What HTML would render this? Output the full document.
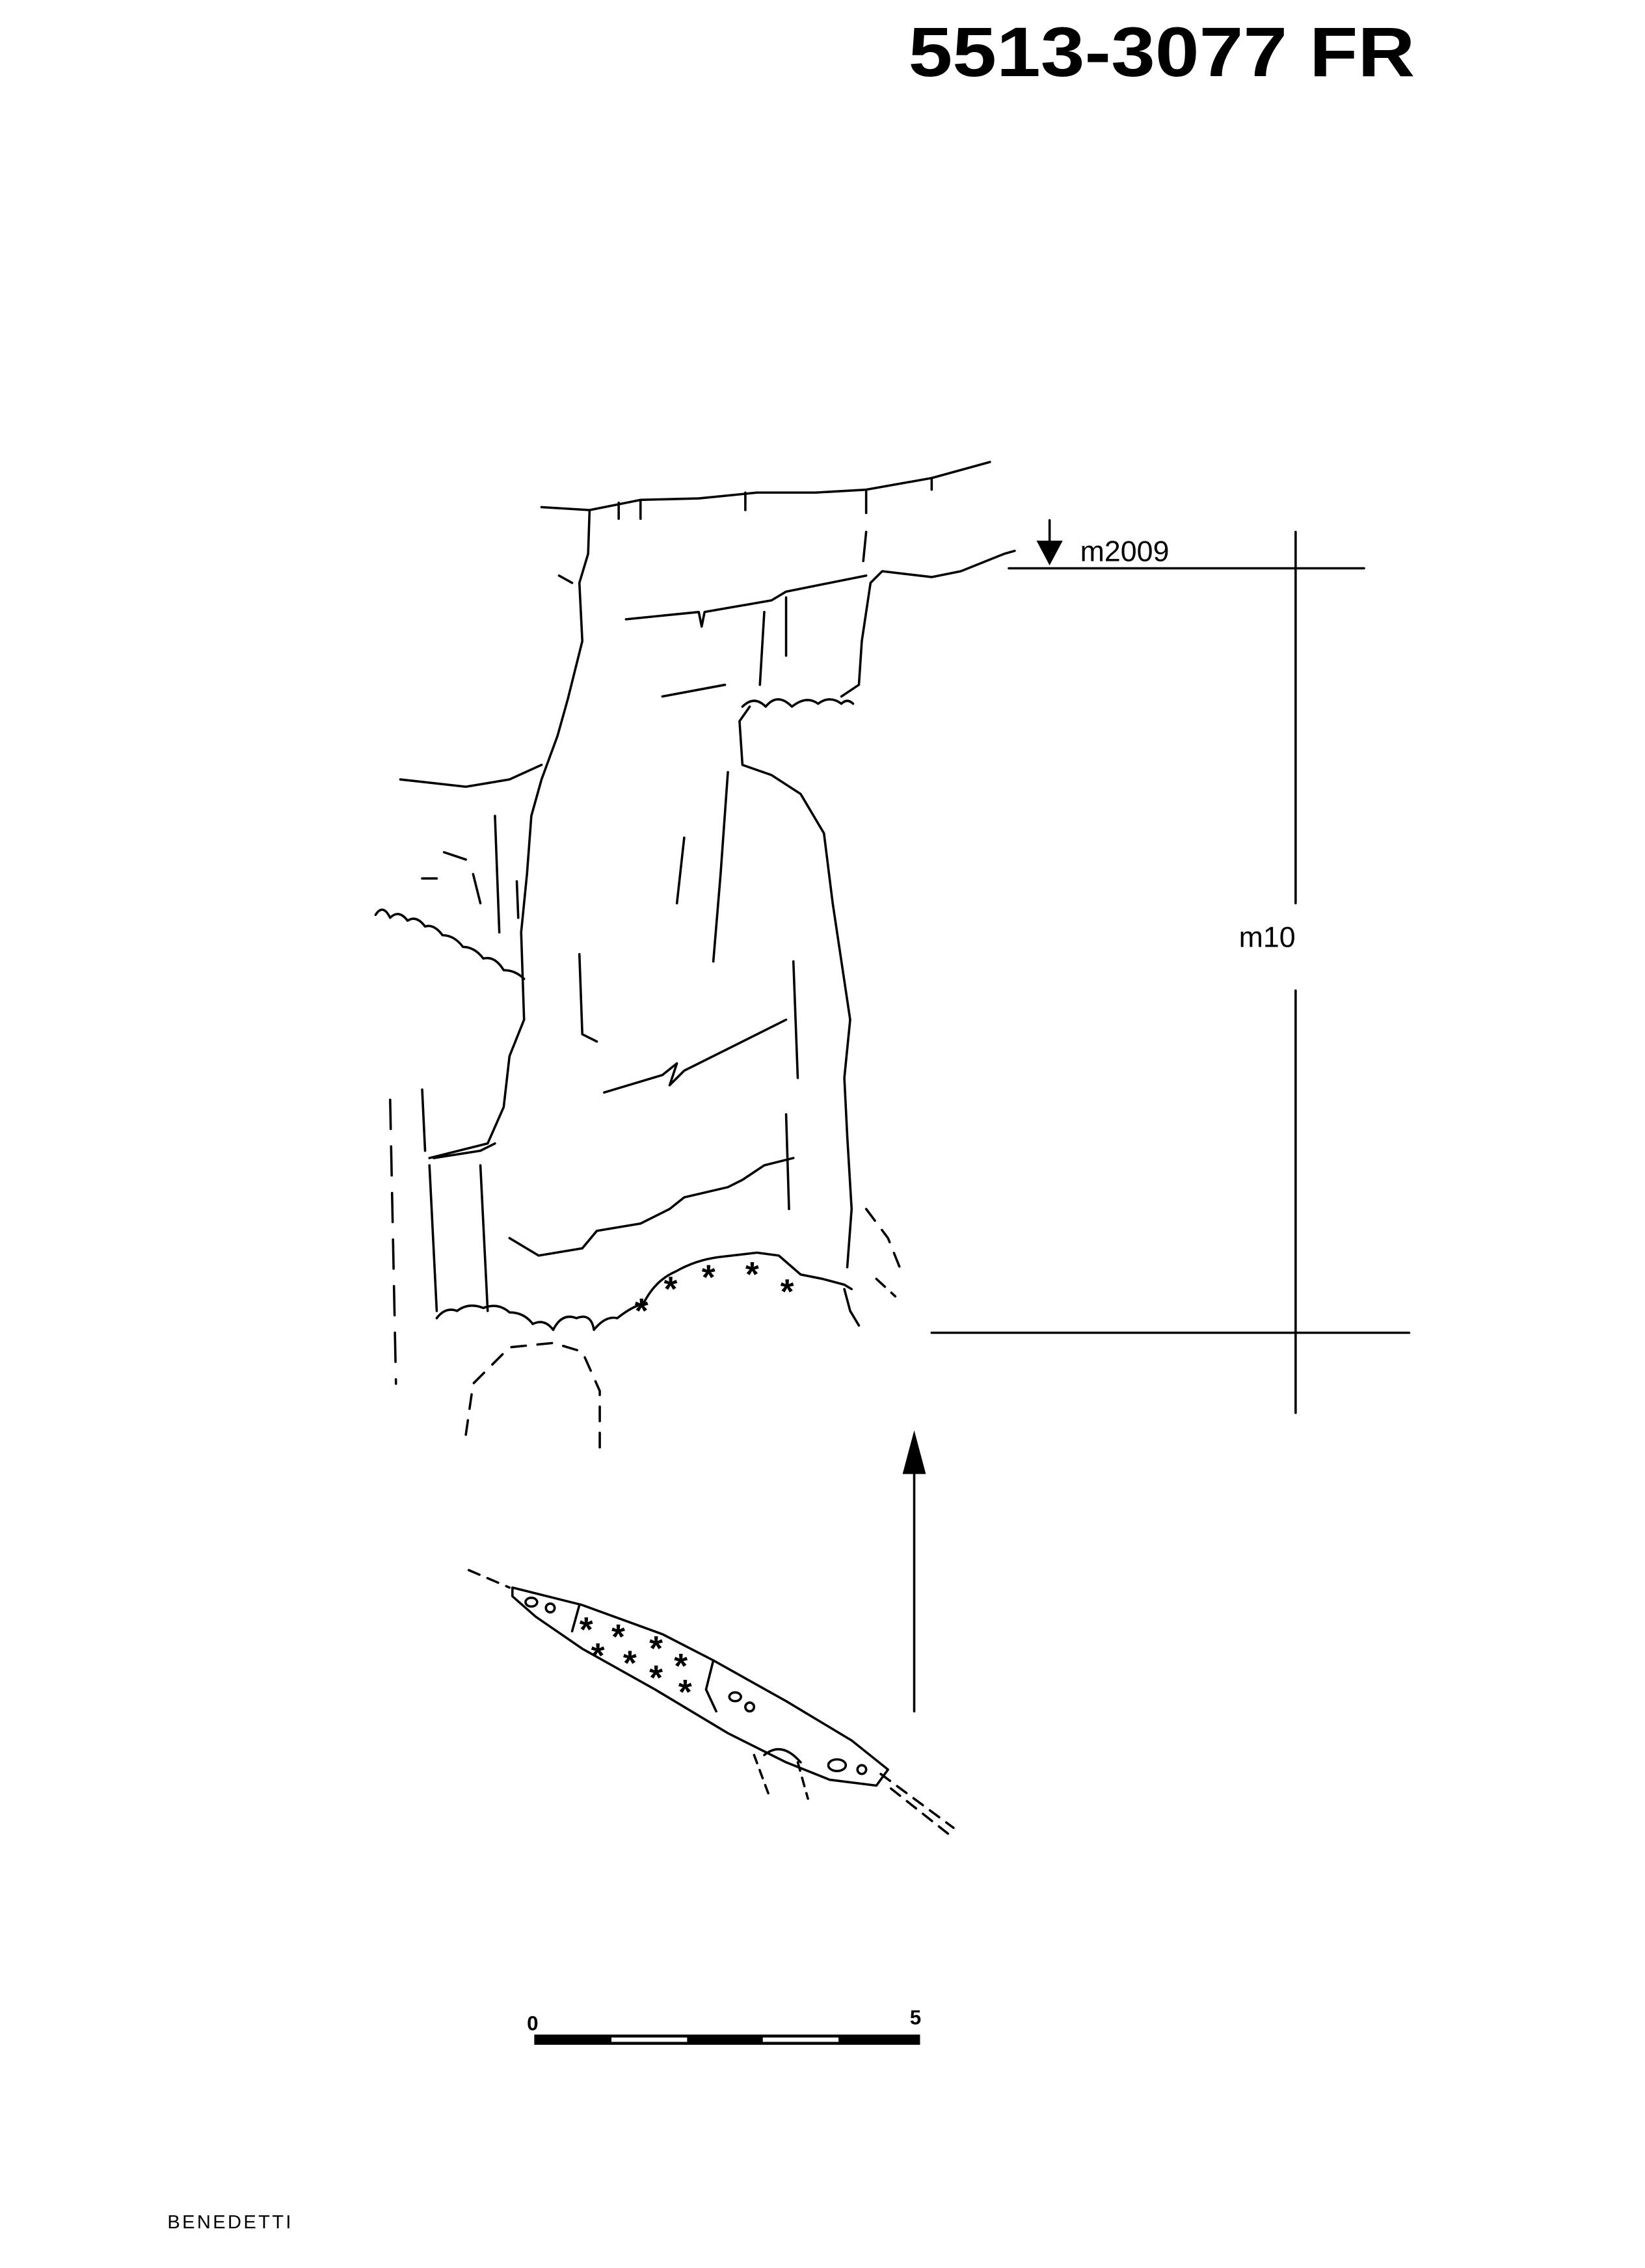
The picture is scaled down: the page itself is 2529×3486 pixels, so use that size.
<!DOCTYPE html>
<html><head><meta charset="utf-8"><style>
html,body{margin:0;padding:0;background:#fff;}
svg{display:block;}
text{font-family:"Liberation Sans",sans-serif;fill:#000;}
</style></head><body>
<svg width="2529" height="3486" viewBox="0 0 1130 1557" xmlns="http://www.w3.org/2000/svg">
<rect width="1130" height="1557" fill="#fff"/>
<text x="624" y="52" font-size="48" font-weight="bold" textLength="348" lengthAdjust="spacingAndGlyphs">5513-3077 FR</text>
<g fill="none" stroke="#000" stroke-width="1.6" stroke-linecap="round" stroke-linejoin="round">
<path d="M372,348 L405,350 L440,343 L480,342 L520,338 L560,338 L595,336 L640,328 L680,317"/>
<path d="M425,345 L425,356 M440,343 L440,356 M512,338 L512,350 M595,336 L595,352 M640,328 L640,336"/>
<path d="M405,350 L404,380 L398,400 L400,440 L390,480 L383,505 L372,535 L365,560 L362,600 L358,640 L360,700 L350,725 L346,760 L335,785 L295,795"/>
<path d="M275,535 L320,540 L350,535 L372,525"/>
<path d="M384,395 L393,400"/>
<path d="M595,365 L593,385"/>
<path d="M598,400 L606,392 L640,396 L660,392 L690,380 L697,378"/>
<path d="M598,400 L592,440 L590,470 L578,478"/>
<path d="M515,485 L508,495 L510,525 L530,532 L550,545 L566,572 L572,620 L578,660 L584,700 L580,740 L582,780 L585,830 L582,870"/>
<path d="M430,425 L480,420 L482,430 L484,420 L530,412 L540,406 L595,395"/>
<path d="M540,410 L540,450"/>
<path d="M455,478 L498,470"/>
<path d="M525,420 L522,470"/>
<path d="M500,530 L495,600 L490,660"/>
<path d="M470,575 L465,620"/>
<path d="M398,655 L400,710 L410,715"/>
<path d="M545,660 L548,740"/>
<path d="M415,750 L455,738 L465,730 L460,745 L470,735 L540,700"/>
<path d="M298,795 L330,790 L340,785"/>
<path d="M295,800 L300,900"/>
<path d="M330,800 L335,900"/>
<path d="M350,850 L370,862 L400,857 L410,845 L440,840 L460,830 L470,822 L500,815 L510,810 L525,800 L545,795"/>
<path d="M540,765 L542,830"/>
<path d="M305,585 L320,590 M290,603 L300,603 M325,600 L330,620 M340,560 L343,640 M355,605 L356,630"/>
<path d="M290,748 L292,790"/>
<path d="M510,485 q8,-8 16,0 q8,-10 18,0 q10,-8 18,-2 q8,-6 16,0 q4,-4 8,0"/>
<path d="M258,628 q5,-8 10,2 q6,-6 12,2 q6,-4 12,4 q6,-2 12,6 q8,0 14,8 q8,0 14,8 q8,-2 14,8 q8,0 14,6"/>
<path d="M300,905 q6,-8 14,-5 q8,-6 18,-2 q10,-4 18,3 q10,0 16,8 q8,-4 14,4 q6,-12 16,-8 q10,-4 12,8 q8,-10 16,-8 q10,-8 18,-10 q8,-16 22,-22 q14,-8 30,-10 L520,860 L535,862 L550,875 L565,878 L580,882 L585,885"/>
<path d="M580,885 L584,900 L590,910"/>
<path d="M320,985 L325,950 L350,925 L380,922 L400,928 L412,955 L412,1000" stroke-dasharray="10,8"/>
<path d="M268,755 L272,950" stroke-dasharray="20,12"/>
<path d="M595,830 L610,850 L620,875" stroke-dasharray="10,8"/>
<path d="M602,878 L615,890" stroke-dasharray="8,6"/>
<path d="M890,365 L890,620"/>
<path d="M890,680 L890,970"/>
<path d="M693,390 L937,390"/>
<path d="M640,915 L968,915"/>
<path d="M628,1000 L628,1175"/>
<path d="M352,1090 L400,1102 L455,1122 L490,1140 L540,1168 L585,1195 L610,1215 L602,1226 L570,1222 L540,1210 L500,1190 L450,1160 L400,1132 L368,1110 L352,1096 Z"/>
<path d="M490,1140 L485,1160 L492,1175"/>
<path d="M398,1102 L393,1120"/>
<path d="M322,1078 L350,1090 M605,1218 L655,1255 M612,1228 L655,1262" stroke-dasharray="8,6"/>
<path d="M518,1205 L528,1232 M548,1210 L555,1235" stroke-dasharray="6,5"/>
<path d="M525,1205 q12,-10 25,5"/>
<ellipse cx="365" cy="1100" rx="4" ry="3"/><ellipse cx="378" cy="1104" rx="3" ry="3"/>
<ellipse cx="505" cy="1165" rx="4" ry="3"/><ellipse cx="515" cy="1172" rx="3" ry="3"/>
<ellipse cx="575" cy="1212" rx="6" ry="4"/><ellipse cx="592" cy="1215" rx="3" ry="3"/>
<path d="M721,357 L721,385"/>
</g>
<path d="M712,371 L730,371 L721,388 Z" fill="#000"/>
<g font-size="24" font-weight="bold">
<text x="456" y="893">*</text><text x="482" y="885">*</text><text x="512" y="883">*</text><text x="536" y="895">*</text><text x="436" y="908">*</text>
<text x="398" y="1127">*</text><text x="420" y="1132">*</text><text x="446" y="1140">*</text><text x="406" y="1145">*</text><text x="428" y="1150">*</text><text x="463" y="1152">*</text><text x="446" y="1160">*</text><text x="466" y="1170">*</text>
</g>
<path d="M620,1012 L628,982 L636,1012 Z" fill="#000"/>
<text x="742" y="385" font-size="20">m2009</text>
<text x="851" y="650" font-size="20">m10</text>
<rect x="367" y="1397" width="265" height="7" fill="#000"/>
<rect x="420" y="1399" width="52" height="3" fill="#fff"/>
<rect x="524" y="1399" width="52" height="3" fill="#fff"/>
<text x="362" y="1394" font-size="14" font-weight="bold">0</text>
<text x="625" y="1390" font-size="14" font-weight="bold">5</text>
<text x="115" y="1530" font-size="13" letter-spacing="1.5">BENEDETTI</text>
</svg>
</body></html>
